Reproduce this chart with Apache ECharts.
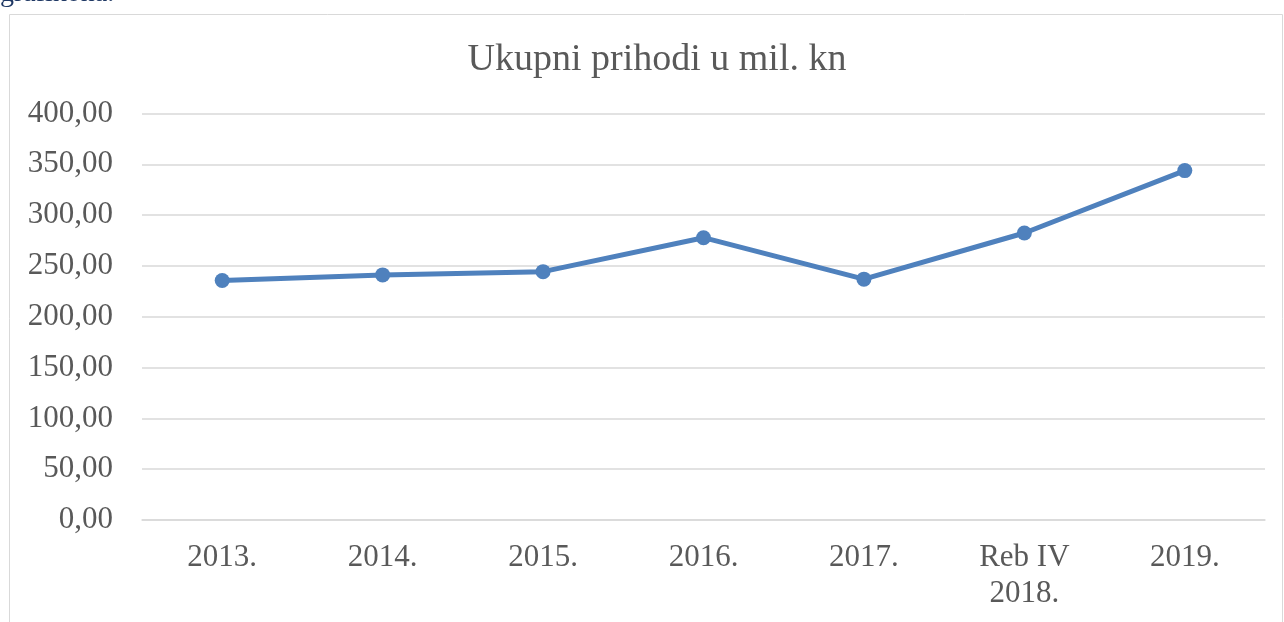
<!DOCTYPE html>
<html>
<head>
<meta charset="utf-8">
<style>
  html, body { margin: 0; padding: 0; background: #fff; }
  #chart { width: 1284px; height: 622px; }
</style>
<script src="https://cdn.jsdelivr.net/npm/echarts@6/dist/echarts.min.js"></script>
</head>
<body>
<div id="chart"></div>
<script>
var categories = ['2013.', '2014.', '2015.', '2016.', '2017.', 'Reb IV\n2018.', '2019.'];
var prihodi = [235.6, 241.2, 244.4, 277.8, 237.0, 282.4, 343.8];
var yTicks = { min: 0, max: 400, interval: 50 };

var font = '"Liberation Serif", "Times New Roman", serif';
var myChart = echarts.init(document.getElementById('chart'));

var option = {
    animation: false,
    title: {
        text: 'Ukupni prihodi u mil. kn',
        left: 652,
        textAlign: 'center',
        top: 36,
        textStyle: {
            fontFamily: font,
            fontSize: 38,
            fontWeight: 'normal',
            color: '#595959'
        }
    },
    graphic: [
        {
            type: 'rect',
            shape: { x: 9.5, y: 14.5, width: 1273, height: 700 },
            style: { fill: 'none', stroke: '#d9d9d9', lineWidth: 1 },
            silent: true
        },
        {
            type: 'text',
            x: 0,
            y: -6,
            style: {
                text: 'grafikona.',
                font: '28px ' + font,
                fill: '#1f3864',
                verticalAlign: 'middle'
            },
            silent: true
        }
    ],
    grid: {
        left: 142,
        right: 19,
        top: 113.5,
        bottom: 102
    },
    xAxis: {
        type: 'category',
        data: categories,
        boundaryGap: true,
        axisLine: { show: true, lineStyle: { color: '#d9d9d9', width: 1.5 } },
        axisTick: { show: false },
        axisLabel: {
            interval: 0,
            margin: 20,
            fontFamily: font,
            fontSize: 31,
            lineHeight: 36,
            color: '#595959'
        }
    },
    yAxis: {
        type: 'value',
        min: yTicks.min,
        max: yTicks.max,
        interval: yTicks.interval,
        axisLine: { show: false },
        axisTick: { show: false },
        splitLine: { lineStyle: { color: '#d9d9d9', width: 1.5 } },
        axisLabel: {
            margin: 29,
            fontFamily: font,
            fontSize: 31,
            color: '#595959',
            formatter: function (v) {
                return v.toFixed(2).replace('.', ',');
            }
        }
    },
    series: [
        {
            type: 'line',
            data: prihodi,
            symbol: 'circle',
            symbolSize: 15,
            lineStyle: { color: '#4f81bd', width: 5 },
            itemStyle: { color: '#4f81bd' }
        }
    ]
};

myChart.setOption(option);
window.addEventListener('resize', function () {
    myChart.resize();
});
</script>
</body>
</html>
